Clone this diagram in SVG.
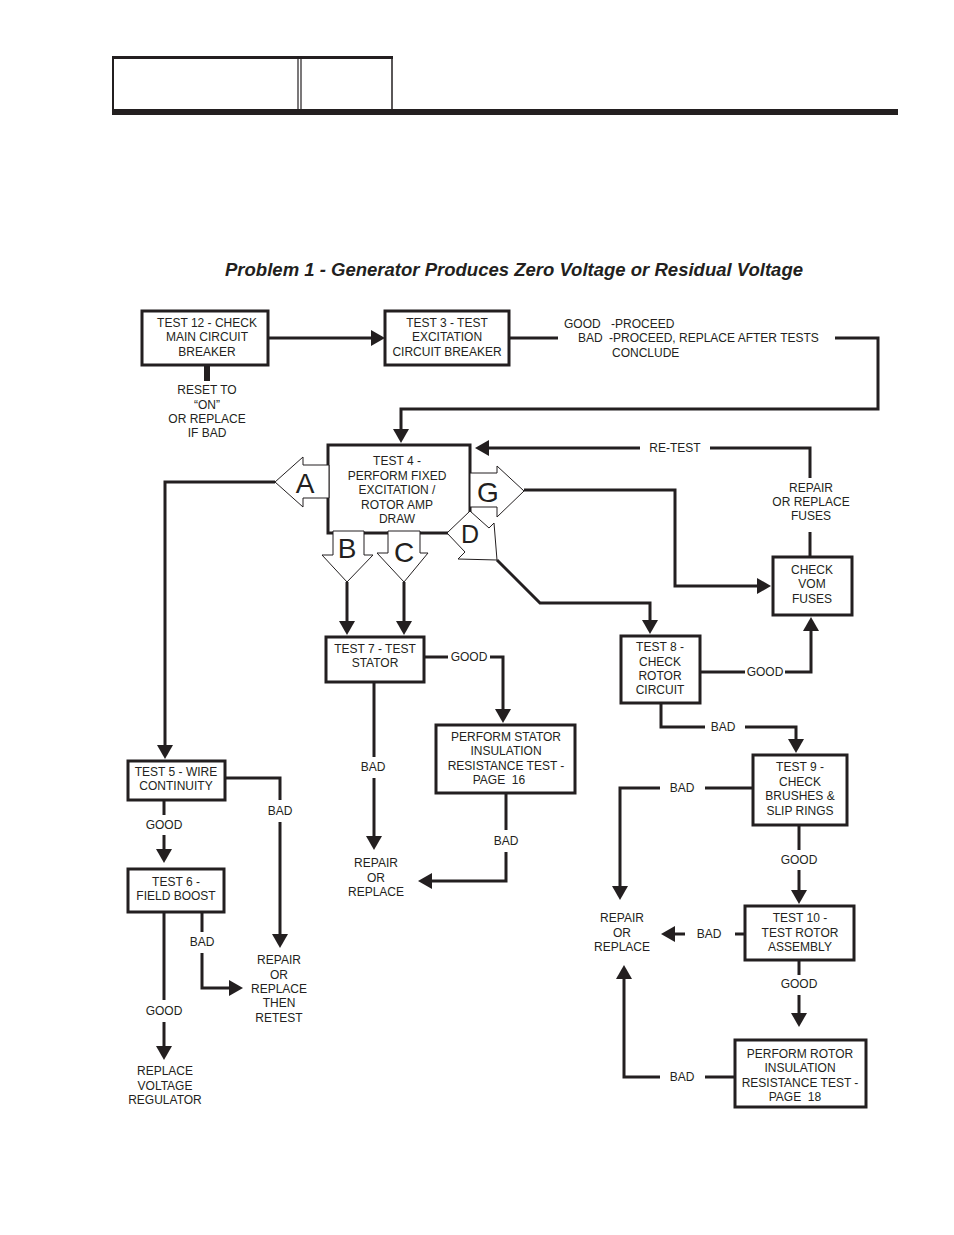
<svg xmlns="http://www.w3.org/2000/svg" width="954" height="1235" viewBox="0 0 954 1235">
<style>
.box{fill:#fff;stroke:#231f20;stroke-width:3}
.ln{fill:none;stroke:#231f20;stroke-width:3}
.ha{fill:#fff;stroke:#231f20;stroke-width:1}
text{font-family:"Liberation Sans",Arial,sans-serif;font-size:12px;fill:#231f20;text-anchor:middle}
.big{font-size:28px}
.title{font-size:17.5px;font-weight:bold;font-style:italic}
.l{text-anchor:start}
</style>
<defs>
<marker id="ah" viewBox="0 0 14 16" refX="10" refY="8" markerWidth="14" markerHeight="16" markerUnits="userSpaceOnUse" orient="auto">
<path d="M0,0 L14,8 L0,16 z" fill="#231f20"/>
</marker>
</defs>
<rect width="954" height="1235" fill="#fff"/>
<g id="header">
<line x1="112" y1="57.5" x2="393" y2="57.5" stroke="#231f20" stroke-width="3"/>
<line x1="113" y1="56" x2="113" y2="112" stroke="#231f20" stroke-width="2"/>
<line x1="298" y1="56" x2="298" y2="112" stroke="#231f20" stroke-width="1.2"/>
<line x1="301" y1="56" x2="301" y2="112" stroke="#231f20" stroke-width="1.2"/>
<line x1="392" y1="56" x2="392" y2="112" stroke="#231f20" stroke-width="1.5"/>
<rect x="112" y="109" width="786" height="6" fill="#231f20"/>
</g>
<text class="title" x="514" y="276" textLength="578" lengthAdjust="spacingAndGlyphs">Problem 1 - Generator Produces Zero Voltage or Residual Voltage</text>
<g id="connectors">
<path class="ln" d="M268,338 H381" marker-end="url(#ah)"/>
<path class="ln" d="M509,338 H558"/>
<path class="ln" d="M835,338 H878 V409 H401 V439" marker-end="url(#ah)"/>
<path class="ln" d="M810,557 V532"/>
<path class="ln" d="M810,478 V448 H710"/>
<path class="ln" d="M640,448 H479" marker-end="url(#ah)"/>
<path class="ln" d="M524,490 H675 V586 H767" marker-end="url(#ah)"/>
<path class="ln" d="M275,482 H165 V755" marker-end="url(#ah)"/>
<path class="ln" d="M347,582 V631" marker-end="url(#ah)"/>
<path class="ln" d="M404,582 V631" marker-end="url(#ah)"/>
<path class="ln" d="M497,560 L540,603 H650 V630" marker-end="url(#ah)"/>
<path class="ln" d="M424,657 H448"/>
<path class="ln" d="M490,657 H503 V719" marker-end="url(#ah)"/>
<path class="ln" d="M374,682 V757"/>
<path class="ln" d="M374,778 V846" marker-end="url(#ah)"/>
<path class="ln" d="M506,793 V830"/>
<path class="ln" d="M506,852 V881 H422" marker-end="url(#ah)"/>
<path class="ln" d="M700,672 H745"/>
<path class="ln" d="M785,672 H811 V621" marker-end="url(#ah)"/>
<path class="ln" d="M661,703 V727 H705"/>
<path class="ln" d="M745,727 H796 V749" marker-end="url(#ah)"/>
<path class="ln" d="M753,788 H705"/>
<path class="ln" d="M660,788 H620 V896" marker-end="url(#ah)"/>
<path class="ln" d="M799,825 V850"/>
<path class="ln" d="M799,870 V900" marker-end="url(#ah)"/>
<path class="ln" d="M745,934 H735"/>
<path class="ln" d="M685,934 H665" marker-end="url(#ah)"/>
<path class="ln" d="M799,960 V975"/>
<path class="ln" d="M799,995 V1023" marker-end="url(#ah)"/>
<path class="ln" d="M735,1077 H705"/>
<path class="ln" d="M660,1077 H624 V969" marker-end="url(#ah)"/>
<path class="ln" d="M225,778 H280 V800"/>
<path class="ln" d="M280,822 V944" marker-end="url(#ah)"/>
<path class="ln" d="M164,800 V815"/>
<path class="ln" d="M164,835 V859" marker-end="url(#ah)"/>
<path class="ln" d="M202,912 V932"/>
<path class="ln" d="M202,953 V988 H239" marker-end="url(#ah)"/>
<path class="ln" d="M164,912 V1000"/>
<path class="ln" d="M164,1022 V1056" marker-end="url(#ah)"/>
<path d="M207,365 V381" stroke="#231f20" stroke-width="6" fill="none"/>
</g>
<g id="labels">
<text class="l" x="564" y="328">GOOD</text>
<text class="l" x="611" y="328">-PROCEED</text>
<text class="l" x="578" y="342">BAD</text>
<text class="l" x="609" y="342">-PROCEED, REPLACE AFTER TESTS</text>
<text class="l" x="612" y="357">CONCLUDE</text>
<text x="207" y="394">RESET TO</text>
<text x="207" y="409">“ON”</text>
<text x="207" y="423">OR REPLACE</text>
<text x="207" y="437">IF BAD</text>
<text x="675" y="452">RE-TEST</text>
<text x="811" y="492">REPAIR</text>
<text x="811" y="506">OR REPLACE</text>
<text x="811" y="520">FUSES</text>
<text x="469" y="661">GOOD</text>
<text x="373" y="771">BAD</text>
<text x="376" y="867">REPAIR</text>
<text x="376" y="882">OR</text>
<text x="376" y="896">REPLACE</text>
<text x="506" y="845">BAD</text>
<text x="765" y="676">GOOD</text>
<text x="723" y="731">BAD</text>
<text x="682" y="792">BAD</text>
<text x="622" y="922">REPAIR</text>
<text x="622" y="937">OR</text>
<text x="622" y="951">REPLACE</text>
<text x="799" y="864">GOOD</text>
<text x="709" y="938">BAD</text>
<text x="799" y="988">GOOD</text>
<text x="682" y="1081">BAD</text>
<text x="280" y="815">BAD</text>
<text x="279" y="964">REPAIR</text>
<text x="279" y="979">OR</text>
<text x="279" y="993">REPLACE</text>
<text x="279" y="1007">THEN</text>
<text x="279" y="1022">RETEST</text>
<text x="164" y="829">GOOD</text>
<text x="202" y="946">BAD</text>
<text x="164" y="1015">GOOD</text>
<text x="165" y="1075">REPLACE</text>
<text x="165" y="1090">VOLTAGE</text>
<text x="165" y="1104">REGULATOR</text>
</g>
<g id="test12">
<rect class="box" x="142" y="311" width="126" height="54"/>
<text x="207" y="327">TEST 12 - CHECK</text>
<text x="207" y="341">MAIN CIRCUIT</text>
<text x="207" y="356">BREAKER</text>
</g>
<g id="test3">
<rect class="box" x="385" y="311" width="124" height="54"/>
<text x="447" y="327">TEST 3 - TEST</text>
<text x="447" y="341">EXCITATION</text>
<text x="447" y="356">CIRCUIT BREAKER</text>
</g>
<g id="test4">
<rect class="box" x="328" y="445" width="142" height="88"/>
<text x="397" y="465">TEST 4 -</text>
<text x="397" y="480">PERFORM FIXED</text>
<text x="397" y="494">EXCITATION /</text>
<text x="397" y="509">ROTOR AMP</text>
<text x="397" y="523">DRAW</text>
</g>
<g id="arrowA">
<polygon class="ha" points="275,482 303,457 303,465 329,465 329,498 303,498 303,507"/>
<text class="big" x="305" y="493">A</text>
</g>
<g id="arrowG">
<polygon class="ha" points="470,473 497,473 497,466 524,491 497,517 497,507 470,507"/>
<text class="big" x="488" y="502">G</text>
</g>
<g id="arrowB">
<polygon class="ha" points="333,531 364,531 364,555 373,555 347,582 322,555 333,555"/>
<text class="big" x="347" y="558">B</text>
</g>
<g id="arrowC">
<polygon class="ha" points="388,531 420,531 420,553 428,553 404,582 377,553 388,553"/>
<text class="big" x="404" y="562">C</text>
</g>
<g id="arrowD">
<polygon class="ha" points="447,533 470,511 489,528 494,523 497,560 458,559 465,552"/>
<text class="big" x="470" y="543" style="font-size:25px">D</text>
</g>
<g id="vom">
<rect class="box" x="773" y="557" width="79" height="58"/>
<text x="812" y="574">CHECK</text>
<text x="812" y="588">VOM</text>
<text x="812" y="603">FUSES</text>
</g>
<g id="test7">
<rect class="box" x="326" y="637" width="98" height="45"/>
<text x="375" y="653">TEST 7 - TEST</text>
<text x="375" y="667">STATOR</text>
</g>
<g id="statorIns">
<rect class="box" x="436" y="725" width="139" height="68"/>
<text x="506" y="741">PERFORM STATOR</text>
<text x="506" y="755">INSULATION</text>
<text x="506" y="770">RESISTANCE TEST -</text>
<text x="499" y="784" xml:space="preserve">PAGE  16</text>
</g>
<g id="test8">
<rect class="box" x="621" y="636" width="79" height="67"/>
<text x="660" y="651">TEST 8 -</text>
<text x="660" y="666">CHECK</text>
<text x="660" y="680">ROTOR</text>
<text x="660" y="694">CIRCUIT</text>
</g>
<g id="test9">
<rect class="box" x="753" y="755" width="94" height="70"/>
<text x="800" y="771">TEST 9 -</text>
<text x="800" y="786">CHECK</text>
<text x="800" y="800">BRUSHES &amp;</text>
<text x="800" y="815">SLIP RINGS</text>
</g>
<g id="test10">
<rect class="box" x="745" y="906" width="109" height="54"/>
<text x="800" y="922">TEST 10 -</text>
<text x="800" y="937">TEST ROTOR</text>
<text x="800" y="951">ASSEMBLY</text>
</g>
<g id="rotorIns">
<rect class="box" x="735" y="1040" width="131" height="67"/>
<text x="800" y="1058">PERFORM ROTOR</text>
<text x="800" y="1072">INSULATION</text>
<text x="800" y="1087">RESISTANCE TEST -</text>
<text x="795" y="1101" xml:space="preserve">PAGE  18</text>
</g>
<g id="test5">
<rect class="box" x="128" y="761" width="97" height="39"/>
<text x="176" y="776">TEST 5 - WIRE</text>
<text x="176" y="790">CONTINUITY</text>
</g>
<g id="test6">
<rect class="box" x="128" y="869" width="96" height="43"/>
<text x="176" y="886">TEST 6 -</text>
<text x="176" y="900">FIELD BOOST</text>
</g>
</svg>
